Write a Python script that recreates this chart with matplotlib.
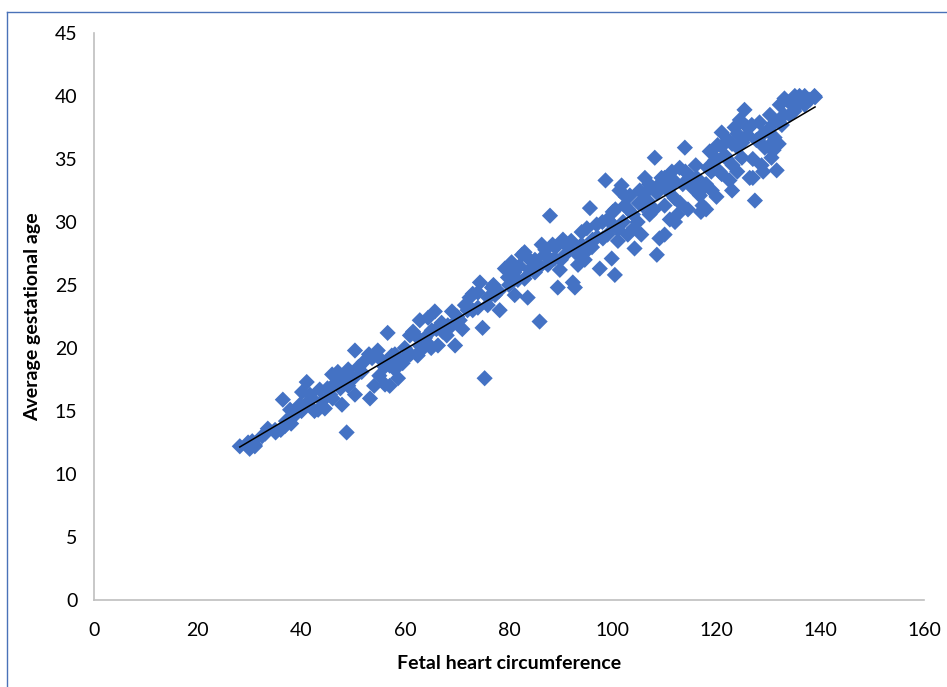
import matplotlib
matplotlib.use("Agg")
import matplotlib.pyplot as plt
from matplotlib.lines import Line2D
import numpy as np

# Values (heart circumference vs gestational age)
circumference = [
    28.1, 29.7, 31.0, 30.5, 32.4, 33.5, 34.9, 36.8, 36.4, 37.8, 38.7, 39.7, 40.1, 41.0,
    41.6, 43.5, 43.2, 44.5, 45.5, 45.9, 47.0, 47.4, 48.4, 49.0, 47.8, 48.7, 50.3, 50.3,
    51.6, 53.2, 53.6, 54.7, 55.5, 56.1, 56.6, 57.4, 58.0, 58.6, 59.5, 59.9, 60.9, 61.5,
    62.4, 62.8, 63.8, 62.8, 64.4, 65.1, 65.7, 66.3, 67.2, 68.2, 69.0, 69.6, 70.5, 71.5,
    72.4, 73.0, 74.0, 74.4, 74.9, 75.3, 75.9, 76.7, 77.3, 78.2, 79.2, 79.8, 80.5, 81.1,
    81.7, 82.5, 83.0, 83.6, 84.0, 85.0, 85.9, 86.3, 86.9, 87.5, 87.9, 88.4, 88.8, 89.4,
    89.8, 90.4, 90.8, 91.7, 92.3, 92.7, 93.3, 94.0, 94.6, 95.2, 95.6, 96.1, 96.9, 97.5,
    98.1, 98.6, 99.0, 99.8, 100.0, 100.4, 101.0, 101.3, 101.7, 102.3, 102.9, 103.3, 103.9,
    104.2, 104.8, 105.2, 105.8, 106.2, 106.7, 107.1, 107.7, 108.1, 108.5, 109.0, 109.4,
    110.0, 110.6, 111.0, 111.4, 111.9, 112.5, 112.9, 113.5, 113.9, 114.5, 114.8, 115.4,
    116.2, 116.8, 117.3, 117.7, 118.3, 118.7, 119.1, 119.7, 120.2, 120.6, 121.0, 121.6,
    122.2, 122.5, 123.1, 123.5, 124.1, 124.5, 124.9, 125.4, 126.0, 126.4, 126.8, 127.4,
    127.7, 128.3, 128.7, 129.3, 129.9, 130.3, 130.6, 131.2, 131.6, 132.2, 132.6, 133.1,
    134.1, 135.1, 136.0, 137.0, 138.0, 138.9,
    31.0, 30.0, 33.0, 35.0, 36.0, 37.0, 38.0, 39.0, 40.0, 41.0, 42.0, 42.5, 44.0, 45.0,
    46.0, 46.5, 47.5, 49.0, 50.0, 51.0, 52.0, 53.0, 54.0, 55.0, 56.0, 57.0, 57.0, 58.0,
    59.0, 60.0, 61.0, 62.0, 63.0, 64.0, 65.0, 66.0, 67.0, 68.0, 69.0, 70.0, 71.0, 72.0,
    73.0, 74.0, 76.0, 77.0, 78.0, 80.0, 81.0, 82.0, 83.0, 84.0, 85.0, 86.0, 87.0, 88.0,
    89.0, 90.0, 91.0, 92.0, 93.0, 94.0, 95.0, 96.0, 97.0, 98.0, 99.0, 100.0, 100.5, 101.0,
    102.0, 102.5, 103.0, 104.0, 105.0, 105.5, 106.0, 107.0, 108.0, 108.5, 109.0, 110.0,
    110.0, 111.0, 112.0, 112.0, 113.0, 114.0, 115.0, 116.0, 117.0, 118.0, 119.0, 120.0,
    121.0, 121.0, 122.0, 123.0, 124.0, 125.0, 126.0, 127.0, 128.0, 129.0, 130.0, 131.0,
    132.0, 133.0, 134.0, 135.0, 136.0, 137.0, 139.0, 131.0, 132.0, 129.0, 127.0, 124.0,
    123.0, 120.0, 118.0, 117.0,
]
gest_age = [
    12.2, 12.5, 12.2, 12.6, 13.0, 13.6, 13.5, 13.8, 15.9, 15.1, 14.7, 15.5, 16.5, 17.3,
    16.3, 16.7, 15.1, 15.2, 16.3, 17.9, 18.1, 17.1, 17.6, 18.3, 15.5, 13.3, 16.3, 19.8,
    18.1, 16.0, 19.2, 19.8, 19.0, 17.1, 21.2, 19.4, 18.3, 17.6, 18.8, 20.0, 21.0, 21.3,
    19.4, 20.2, 20.8, 22.2, 22.4, 21.4, 22.9, 20.2, 21.3, 21.8, 22.9, 20.2, 22.2, 23.4,
    24.0, 23.0, 24.4, 25.2, 21.6, 17.6, 23.4, 24.8, 24.2, 23.0, 26.3, 25.6, 26.8, 24.2,
    25.4, 27.4, 27.6, 24.0, 26.2, 27.0, 22.1, 28.2, 27.4, 26.6, 30.5, 28.2, 27.1, 24.8,
    26.2, 28.6, 27.4, 27.9, 25.2, 24.8, 26.6, 29.2, 27.0, 27.8, 31.1, 28.6, 29.8, 26.3,
    28.7, 33.3, 30.2, 27.1, 30.8, 25.8, 29.4, 32.5, 32.9, 31.3, 29.0, 32.1, 30.6,
    27.9, 30.0, 32.5, 31.3, 33.5, 31.7, 30.6, 32.7, 35.1, 27.4, 28.7, 33.5,
    31.3, 32.5, 30.2, 34.0, 31.9, 30.6, 34.3, 33.0, 35.9, 31.0, 33.7, 32.7,
    33.5, 32.1, 31.3, 32.9, 34.3, 35.6, 32.5, 34.9, 36.1, 34.0, 37.1, 35.3,
    36.5, 33.3, 34.5, 37.5, 35.9, 38.1, 35.1, 38.9, 36.9, 33.5, 37.7, 31.7,
    36.5, 37.9, 34.5, 35.9, 37.3, 38.5, 35.1, 36.7, 34.1, 39.3, 37.7, 39.8,
    38.5, 40.0, 39.4, 40.0, 39.7, 40.0,
    12.3, 12.0, 13.2, 13.3, 13.5, 14.2, 14.0, 14.8, 15.0, 15.6, 16.0, 15.0, 15.8, 16.8,
    16.0, 17.2, 16.8, 17.0, 17.6, 18.5, 18.9, 19.5, 17.0, 17.8, 18.5, 17.0, 18.6, 19.5,
    19.0, 19.2, 19.5, 21.0, 19.8, 20.5, 20.0, 21.5, 22.0, 21.0, 21.8, 22.5, 21.5, 23.0,
    24.3, 23.2, 24.0, 25.0, 24.5, 25.0, 26.0, 26.5, 25.5, 27.0, 26.0, 26.5, 27.8, 27.0,
    28.0, 27.0, 28.2, 28.5, 27.5, 28.2, 29.5, 28.0, 28.8, 30.0, 29.0, 29.8, 31.0, 28.5,
    30.0, 32.0, 31.0, 29.5, 31.5, 29.0, 32.2, 33.0, 31.0, 32.3, 33.0, 33.5,
    29.0, 32.8, 33.2, 30.0, 31.5, 34.0, 33.0, 34.5, 32.5, 33.0, 34.0, 35.0,
    33.8, 36.0, 35.0, 36.2, 37.0, 36.3, 37.5, 35.0, 36.5, 37.0, 36.0, 37.8,
    38.0, 38.5, 39.5, 38.8, 40.0, 39.3, 39.9, 35.7, 36.2, 34.0, 33.5, 34.0,
    32.5, 32.0, 31.0, 30.8,
]

x_ticks = [0, 20, 40, 60, 80, 100, 120, 140, 160]
y_ticks = [0, 5, 10, 15, 20, 25, 30, 35, 40, 45]

plt.rcParams['font.family'] = ['Lato', 'DejaVu Sans']

fig = plt.figure(figsize=(9.47, 6.87), dpi=100)
ax = fig.add_axes([0.0993, 0.1266, 0.8764, 0.8254])

x = np.array(circumference)
y = np.array(gest_age)
ax.scatter(x, y, marker='D', s=68, color='#4472C4', edgecolors='none', zorder=2)

# linear trendline
slope, intercept = np.polyfit(x, y, 1)
xt = np.array([x.min(), x.max()])
ax.plot(xt, slope * xt + intercept, color='black', linewidth=1.1, zorder=3)

ax.set_xlim(0, 160)
ax.set_ylim(0, 45)
ax.set_xticks(x_ticks)
ax.set_yticks(y_ticks)
ax.tick_params(length=0, labelsize=14, colors='#000000')
ax.tick_params(axis='x', pad=16)
ax.tick_params(axis='y', pad=12)

for side in ['top', 'right']:
    ax.spines[side].set_visible(False)
for side in ['left', 'bottom']:
    ax.spines[side].set_color('#BFBFBF')
    ax.spines[side].set_linewidth(1.2)

ax.set_xlabel("Fetal heart circumference", fontsize=14, fontweight='bold', labelpad=11)
ax.set_ylabel("Average gestational age", fontsize=14, fontweight='bold', labelpad=10)

# frame lines at top and left of the picture
fig.add_artist(Line2D([7 / 947, 1], [1 - 12 / 687, 1 - 12 / 687], color='#4A72B8', linewidth=1.0))
fig.add_artist(Line2D([7 / 947, 7 / 947], [0, 1 - 12 / 687], color='#4A72B8', linewidth=1.0))

fig.savefig("out.png", dpi=100)
